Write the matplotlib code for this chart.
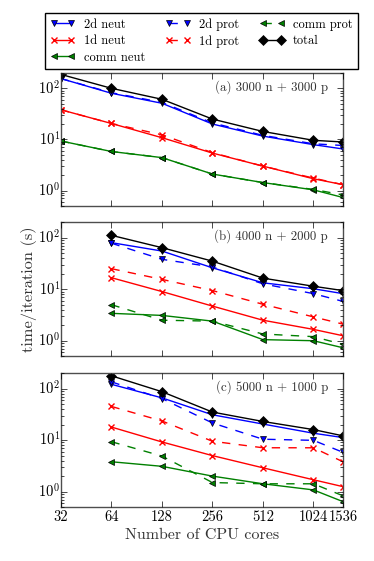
import numpy as np
import matplotlib
matplotlib.use("Agg")
import matplotlib.pyplot as plt
import matplotlib.ticker as mticker

plt.style.use("classic")
plt.rcParams["font.family"] = "serif"
plt.rcParams["font.serif"] = ["cmr10", "DejaVu Serif"]
plt.rcParams["mathtext.fontset"] = "cm"
plt.rcParams["axes.formatter.use_mathtext"] = True

# core counts
cores_a = [32, 64, 128, 256, 512, 1024, 1536]
cores_bc = [64, 128, 256, 512, 1024, 1536]

# (a) 3000 n + 3000 p
a_2d_neut = [155, 80, 51, 20, 11.6, 7.9, 6.5]
a_1d_neut = [38, 20.5, 10.8, 5.4, 3.0, 1.7, 1.3]
a_comm_neut = [9.3, 5.8, 4.4, 2.1, 1.43, 1.03, 0.73]
a_2d_prot = [155, 82, 53, 21, 12, 8.2, 7.6]
a_1d_prot = [38, 20.5, 12.3, 5.5, 3.0, 1.75, 1.3]
a_comm_prot = [9.3, 5.8, 4.4, 2.1, 1.43, 1.05, 0.82]
a_total = [187, 100, 61, 25, 14.3, 9.6, 8.9]

# (b) 4000 n + 2000 p
b_2d_neut = [80, 55, 26, 13.3, 10.2, 8.2]
b_1d_neut = [16.7, 9.0, 4.7, 2.5, 1.66, 1.25]
b_comm_neut = [3.4, 3.1, 2.4, 1.05, 1.0, 0.73]
b_2d_prot = [78, 38, 27, 12.7, 8.2, 5.8]
b_1d_prot = [25, 15.5, 9.4, 5.1, 2.9, 2.1]
b_comm_prot = [5.0, 2.5, 2.4, 1.35, 1.2, 0.85]
b_total = [111, 64, 35, 16.4, 11.4, 9.4]

# (c) 5000 n + 1000 p
c_2d_neut = [121, 66, 31, 20.5, 13.6, 11.2]
c_1d_neut = [17.9, 9.2, 5.0, 2.9, 1.7, 1.25]
c_comm_neut = [3.8, 3.1, 2.0, 1.42, 1.08, 0.64]
c_2d_prot = [135, 64, 21.5, 10.4, 9.9, 5.8]
c_1d_prot = [45, 23.5, 9.5, 7.1, 7.1, 3.8]
c_comm_prot = [9.3, 4.9, 1.5, 1.42, 1.42, 0.83]
c_total = [177, 87, 35, 23, 16, 12.1]

panels = [
    ("(a) 3000 n + 3000 p", cores_a,
     [a_2d_neut, a_1d_neut, a_comm_neut, a_2d_prot, a_1d_prot, a_comm_prot, a_total]),
    ("(b) 4000 n + 2000 p", cores_bc,
     [b_2d_neut, b_1d_neut, b_comm_neut, b_2d_prot, b_1d_prot, b_comm_prot, b_total]),
    ("(c) 5000 n + 1000 p", cores_bc,
     [c_2d_neut, c_1d_neut, c_comm_neut, c_2d_prot, c_1d_prot, c_comm_prot, c_total]),
]

labels = ["2d neut", "1d neut", "comm neut", "2d prot", "1d prot", "comm prot", "total"]
styles = [("b", "v", "-"), ("r", "x", "-"), ("g", "<", "-"),
          ("b", "v", "--"), ("r", "x", "--"), ("g", "<", "--"), ("k", "D", "-")]

xticks = [32, 64, 128, 256, 512, 1024, 1536]

fig = plt.figure(figsize=(3.74, 5.61), dpi=100, facecolor="white")
rects = [[0.163, 0.633, 0.754, 0.237],
         [0.163, 0.365, 0.754, 0.239],
         [0.163, 0.096, 0.754, 0.239]]

axes = []
for rect, (title, cores, series) in zip(rects, panels):
    ax = fig.add_axes(rect)
    for vals, lab, (c, m, ls) in zip(series, labels, styles):
        ms = 5.5 if m == "D" else 5
        ax.plot(cores, vals, color=c, marker=m, linestyle=ls, label=lab,
                markersize=ms, linewidth=1, markeredgewidth=1 if m == "x" else 0.5)
    ax.set_xscale("log", base=2)
    ax.set_yscale("log")
    ax.set_xlim(32, 1536)
    ax.set_ylim(0.5, 200)
    ax.xaxis.set_major_locator(mticker.FixedLocator(xticks))
    ax.xaxis.set_minor_locator(mticker.NullLocator())
    ax.xaxis.set_major_formatter(mticker.FixedFormatter([str(t) for t in xticks]))
    ax.text(0.947, 0.893, title, transform=ax.transAxes, ha="right", va="center",
            fontsize=9.3, color="0.2")
    for sp in ax.spines.values():
        sp.set_edgecolor("0.3")
    ax.tick_params(axis="x", labelsize=10.5, pad=2)
    ax.tick_params(axis="y", labelsize=10.5, pad=0.5)
    axes.append(ax)

axes[0].tick_params(labelbottom=False)
axes[1].tick_params(labelbottom=False)
axes[1].set_ylabel("time/iteration (s)", fontsize=11.8, color="0.2", labelpad=1)
axes[2].set_xlabel("Number of CPU cores", fontsize=11.5, color="0.2", labelpad=3)

handles, labs = axes[0].get_legend_handles_labels()
fig.legend(handles, labs, loc="upper left", ncol=3, mode="expand",
           bbox_to_anchor=(0.12, 0.879, 0.837, 0.098), borderaxespad=0,
           fontsize=9, numpoints=2, fancybox=False, edgecolor="k",
           handlelength=2.0, labelspacing=0.35, borderpad=0.4,
           handletextpad=0.7, columnspacing=1.0)

fig.savefig("out.png", dpi=100, facecolor="white")
